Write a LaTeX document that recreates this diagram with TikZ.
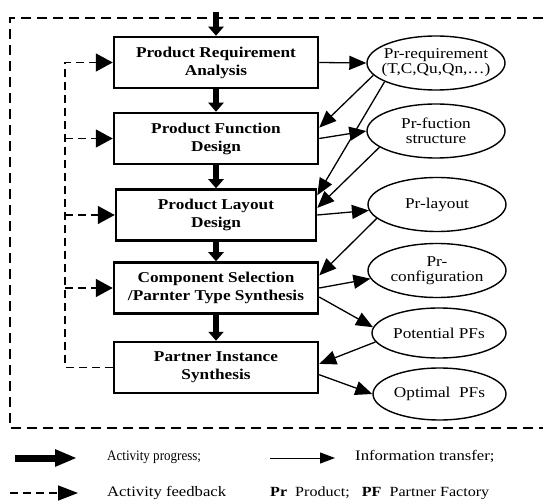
\documentclass[tikz,border=0pt]{standalone}
\usepackage{fontspec}
\setmainfont{Liberation Serif}[FakeStretch=1.15]
\usetikzlibrary{arrows.meta,shapes.geometric}
\tikzset{
  activity/.style={draw,line width=2.5pt,minimum width=204pt,minimum height=51pt,inner sep=0pt,
    align=center,font=\fontsize{15}{18}\selectfont\bfseries},
  info/.style={draw,ellipse,line width=1.4pt,minimum width=138pt,minimum height=54pt,
    inner xsep=-8pt,inner ysep=0pt,align=center,font=\fontsize{15}{15}\selectfont},
  progress/.style={line width=6.5pt,-{Triangle[length=9pt,width=15pt]}},
  transfer/.style={line width=1.3pt,-{Triangle[length=17pt,width=14pt]}},
  feedback/.style={line width=1.6pt,dash pattern=on 8pt off 5pt,-{Triangle[length=17pt,width=18pt]}},
  frame/.style={line width=1.4pt,dash pattern=on 10pt off 6pt},
  legend/.style={anchor=west,inner sep=0pt,font=\fontsize{14.5}{14.5}\selectfont}
}
\begin{document}
\begin{tikzpicture}[x=1pt,y=-1pt]
  \useasboundingbox (0,0) rectangle (543,502);
  \draw[frame] (543,18) -| (10,428) -- (543,428); % outer loop
  % activities
  \node[activity] (req) at (216,62.5) {Product Requirement\\Analysis};
  \node[activity] (fun) at (216,138.5) {Product Function\\Design};
  \node[activity,minimum width=200pt] (lay) at (216,215) {Product Layout\\Design};
  \node[activity] (sel) at (216,288) {Component Selection\\/Parnter Type Synthesis};
  \node[activity] (ins) at (216,367.5) {Partner Instance\\Synthesis};
  % information
  \node[info] (ereq) at (436,63) {Pr-requirement\\(T,C,Qu,Qn,\ldots)};
  \node[info] (efun) at (436,131) {Pr-fuction\\structure};
  \node[info] (elay) at (437,204.5) {Pr-layout};
  \node[info] (econ) at (437,270.5) {Pr-\\configuration};
  \node[info,minimum width=134pt,minimum height=50pt] (epot) at (439,333) {Potential PFs};
  \node[info,minimum width=133pt,minimum height=52pt] (eopt) at (439.5,394) {Optimal~ PFs};
  % activity progress
  \coordinate (start) at (216,12);
  \draw[progress] (start) -- (req.north);
  \draw[progress] (req) -- (fun);
  \draw[progress] (fun) -- (lay);
  \draw[progress] (lay) -- (sel);
  \draw[progress] (sel) -- (ins);
  % information transfer
  \draw[transfer] (req.east) -- (ereq.west);
  \draw[transfer] (ereq.191) -- (fun.6);
  \draw[transfer] (ereq.200) -- (lay.11);
  \draw[transfer] (fun.east) -- (efun.west);
  \draw[transfer] (efun.196) -- (lay.4);
  \draw[transfer] (lay.east) -- (elay.185);
  \draw[transfer] (elay.193) -- (sel.7);
  \draw[transfer] (sel.east) -- (econ.187);
  \draw[transfer] (sel.-5) -- (epot.175);
  \draw[transfer] (epot.188) -- (ins.2);
  \draw[transfer] (ins.-4) -- (eopt.west);
  % activity feedback
  \coordinate (fb) at (65,0);
  \draw[feedback] (ins.west) -- (ins.west -| fb) |- (req.west);
  \draw[feedback] (fun.west -| fb) -- (fun.west);
  \draw[feedback] (lay.west -| fb) -- (lay.west);
  \draw[feedback] (sel.west -| fb) -- (sel.west);
  % legend
  \coordinate (p1) at (15,458); \coordinate (p2) at (77,458);
  \coordinate (t1) at (270,458); \coordinate (t2) at (335,458);
  \coordinate (f1) at (10,493); \coordinate (f2) at (78,493);
  \draw[line width=7pt,-{Triangle[length=22pt,width=16pt]}] (p1) -- (p2);
  \draw[transfer,line width=1pt,-{Triangle[length=15pt,width=11pt]}] (t1) -- (t2);
  \draw[feedback,-{Triangle[length=20pt,width=15pt]}] (f1) -- (f2);
  \node[legend,font=\fontsize{14.5}{14.5}\selectfont\addfontfeatures{FakeStretch=0.9}] (lprog) at (107,457) {Activity progress;};
  \node[legend] (linfo) at (355,457) {Information transfer;};
  \node[legend] (lfeed) at (107,493) {Activity feedback};
  \node[legend,font=\fontsize{14}{14}\selectfont] (labbr) at (270,493) {\textbf{Pr}\ \ Product;\ \ \ \textbf{PF}\ \ Partner Factory};
\end{tikzpicture}
\end{document}
